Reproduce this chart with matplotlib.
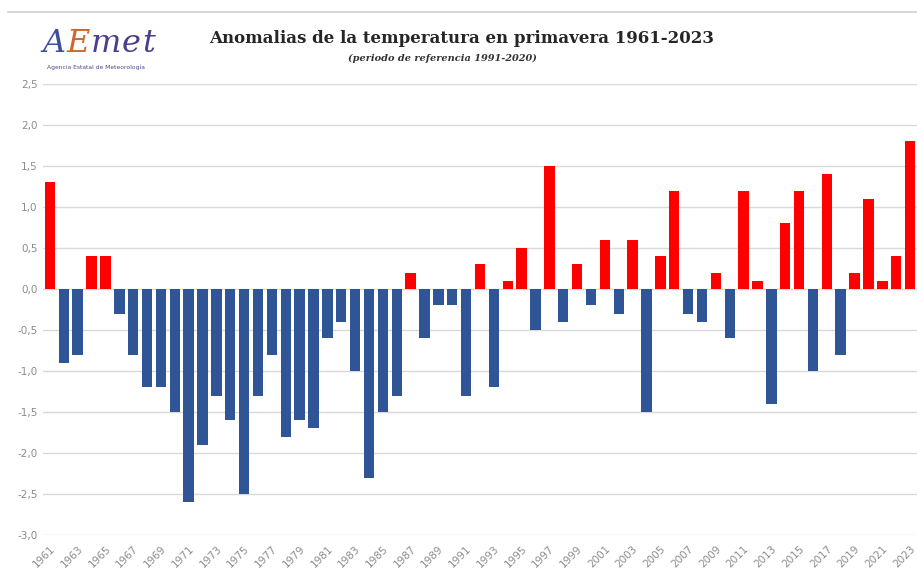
import matplotlib
import numpy as np

matplotlib.use("Agg")
import matplotlib.pyplot as plt

# spring temperature anomalies, reference period 1991-2020
years = list(range(1961, 2024))
anomalies = [
    1.3, -0.9, -0.8, 0.4, 0.4, -0.3, -0.8, -1.2, -1.2, -1.5,
    -2.6, -1.9, -1.3, -1.6, -2.5, -1.3, -0.8, -1.8, -1.6, -1.7,
    -0.6, -0.4, -1.0, -2.3, -1.5, -1.3, 0.2, -0.6, -0.2, -0.2,
    -1.3, 0.3, -1.2, 0.1, 0.5, -0.5, 1.5, -0.4, 0.3, -0.2,
    0.6, -0.3, 0.6, -1.5, 0.4, 1.2, -0.3, -0.4, 0.2, -0.6,
    1.2, 0.1, -1.4, 0.8, 1.2, -1.0, 1.4, -0.8, 0.2, 1.1,
    0.1, 0.4, 1.8,
]
y_ticks = [2.5, 2.0, 1.5, 1.0, 0.5, 0.0, -0.5, -1.0, -1.5, -2.0, -2.5, -3.0]

title = "Anomalias de la temperatura en primavera 1961-2023"
subtitle = "(periodo de referencia 1991-2020)"

RED = "#ff0000"
BLUE = "#2f5597"
GREY = "#8c8c8c"

fig = plt.figure(figsize=(9.17, 5.81), dpi=100)
axis = fig.add_axes([0.0469, 0.0792, 0.9531, 0.7762])

x = np.arange(len(years))
colors = [RED if v > 0 else BLUE for v in anomalies]
axis.bar(x, anomalies, width=0.75, color=colors, zorder=3)

axis.set_xlim(-0.5, len(years) - 0.5)
axis.set_ylim(-3.0, 2.5)
axis.set_yticks(y_ticks)
axis.set_yticklabels([f"{v:.1f}".replace(".", ",") for v in y_ticks])
axis.set_xticks(x[::2])
axis.set_xticklabels([str(y) for y in years[::2]], rotation=45,
                     ha="right", rotation_mode="anchor")
axis.tick_params(axis="both", length=0, colors=GREY, labelsize=7.5)
axis.tick_params(axis="x", pad=6)
axis.tick_params(axis="y", pad=4)
axis.grid(axis="y", color="#d9d9d9", linewidth=1.0, zorder=0)
for side in axis.spines.values():
    side.set_visible(False)

# frame line at top of the picture
fig.add_artist(plt.Line2D([0.009, 1.0], [0.979, 0.979],
                          color="#d0d0d0", linewidth=1.2))

fig.text(0.503, 0.934, title, ha="center", va="center",
         family="DejaVu Serif", weight="bold", size=12, color="#262626")
fig.text(0.483, 0.900, subtitle, ha="center", va="center",
         family="DejaVu Serif", style="italic", weight="bold",
         size=7, color="#333333")

# AEMET logo, as text; letters placed one after another
logo_parts = [("A", "#3a4fa0"), ("E", "#d0662a"), ("m", "#4a3f8f"),
              ("e", "#4a3f8f"), ("t", "#4a3f8f")]
renderer = fig.canvas.get_renderer()
lx = 42
for letter, col in logo_parts:
    t = fig.text(lx / 917, 0.925, letter, ha="left", va="center",
                 family="DejaVu Serif", style="italic", size=23, color=col)
    lx += t.get_window_extent(renderer).width + 1
fig.text(0.105, 0.884, "Agencia Estatal de Meteorología", ha="center",
         va="center", size=4.3, color="#4a4a8a")

fig.savefig("out.png", dpi=100)
